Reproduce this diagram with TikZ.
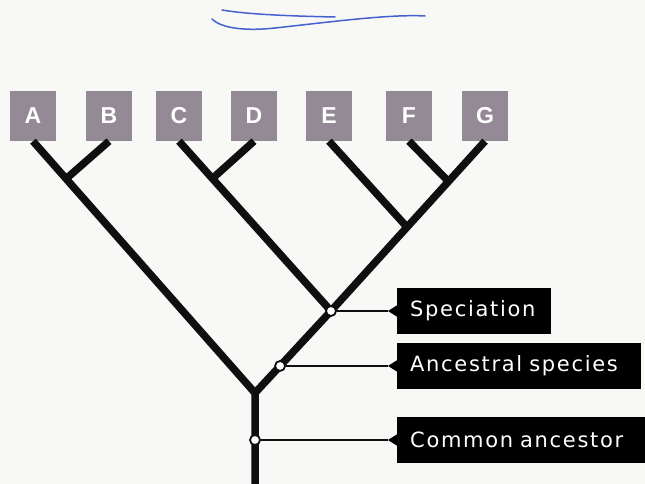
\documentclass[tikz,border=0pt]{standalone}
\usepackage{fontspec}
\setmainfont{Liberation Sans}
\newfontfamily\tipfont{Liberation Sans Bold}
\newfontfamily\lblfont[LetterSpace=8,WordSpace=1.6]{DejaVu Sans}
\usetikzlibrary{calc}
\definecolor{paper}{RGB}{248,248,246}
\definecolor{taxon}{RGB}{148,138,150}
\definecolor{ink}{RGB}{15,15,15}
\definecolor{pen}{RGB}{40,70,200}
\tikzset{
  taxonbox/.style={fill=taxon, minimum width=46pt, minimum height=50pt, inner sep=0pt,
    text=white, font=\tipfont\fontsize{23}{23}\selectfont},
  branch/.style={draw=ink, line width=7.5pt, line join=miter},
  pointer/.style={draw=ink, line width=1.8pt},
  event/.style={circle, draw=ink, fill=white, line width=1.8pt, minimum size=10pt, inner sep=0pt},
  callout/.style={fill=black, text=white, anchor=west, minimum height=46pt, inner xsep=13pt,
    align=left, font=\lblfont\fontsize{21}{21}\selectfont},
  penstroke/.style={draw=pen, line width=1.5pt, line cap=round, opacity=0.85}
}
\begin{document}
\begin{tikzpicture}[x=1pt, y=-1pt]
\useasboundingbox (0,0) rectangle (645,484);
\fill[paper] (0,0) rectangle (645,484);

% pen marks at the top
\draw[penstroke] (222,10) .. controls (245,14) and (285,16) .. (335,17);
\draw[penstroke] (212,19) .. controls (222,29) and (248,31) .. (275,28)
                 .. controls (330,22) and (390,14) .. (425,16);

% taxa
\node[taxonbox] (A) at (33,116) {A};
\node[taxonbox] (B) at (109,116) {B};
\node[taxonbox] (C) at (179,116) {C};
\node[taxonbox] (D) at (254,116) {D};
\node[taxonbox] (E) at (329,116) {E};
\node[taxonbox] (F) at (409,116) {F};
\node[taxonbox] (G) at (485,116) {G};

% internal points of the tree
\coordinate (root) at (255,393);
\coordinate (spec) at (331,311);
\coordinate (ab) at (67,178);
\coordinate (cd) at (213,178);
\coordinate (efg) at (406,226);
\coordinate (fg) at (448,181);
\coordinate (anc) at ($(spec)!0.67!(root)$);
\coordinate (common) at (255,440);
\coordinate (base) at (255,490);

% branches
\draw[branch] (A.south) -- (root) -- (base);
\draw[branch] (B.south) -- (ab);
\draw[branch] (C.south) -- (spec) -- (root);
\draw[branch] (D.south) -- (cd);
\draw[branch] (G.south) -- (spec);
\draw[branch] (E.south) -- (efg);
\draw[branch] (F.south) -- (fg);

% callouts, each level with its event marker
\node[callout, text width=128pt] (lspec) at (spec -| 397,0) {Speciation};
\node[callout, text width=218pt] (lanc) at (anc -| 397,0) {Ancestral species};
\node[callout, text width=226pt] (lcom) at (common -| 397,0) {Common ancestor};
\foreach \l in {lspec,lanc,lcom}{
  \fill[black] ($(\l.west)+(0.5,-6)$) -- ($(\l.west)+(-9,0)$) -- ($(\l.west)+(0.5,6)$) -- cycle;
  \coordinate (\l tip) at ($(\l.west)+(-9,0)$);
}

% event markers and leader lines
\node[event] (pspec) at (spec) {};
\node[event] (panc) at (anc) {};
\node[event] (pcom) at (common) {};
\draw[pointer] (pspec.east) -- (lspectip);
\draw[pointer] (panc.east) -- (lanctip);
\draw[pointer] (pcom.east) -- (lcomtip);
\end{tikzpicture}
\end{document}
